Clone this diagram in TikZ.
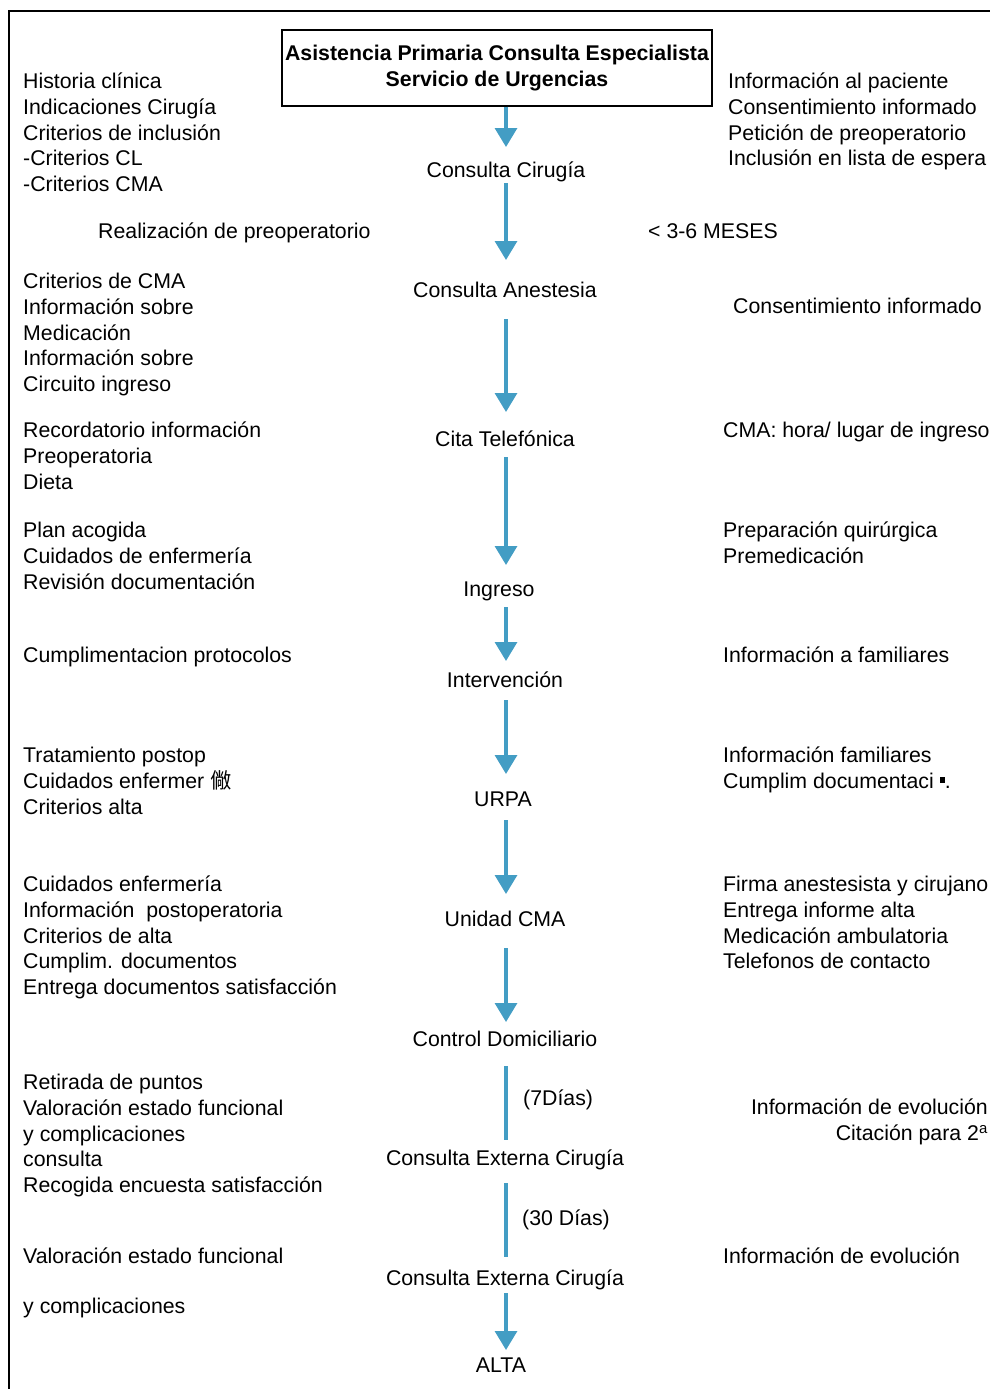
\documentclass[tikz,border=0pt]{standalone}
\usepackage{fontspec}
\setmainfont{Liberation Sans}
\newfontfamily\cjk{Noto Sans CJK SC}
\usetikzlibrary{arrows.meta}
\definecolor{flecha}{RGB}{67,157,196}
\begin{document}
\begin{tikzpicture}[x=1pt,y=-1pt,
  every node/.style={font=\fontsize{21.3}{25.7}\selectfont,inner sep=0pt},
  paso/.style={anchor=base},
  izq/.style={anchor=north west,align=left,execute at begin node=\strut},
  der/.style={anchor=north east,align=right,execute at begin node=\strut},
  flujo/.style={draw=flecha,line width=3.3pt,-{Triangle[width=22pt,length=19pt]}},
  tramo/.style={draw=flecha,line width=3.3pt}]
  \useasboundingbox (0,0) rectangle (990,1389);
  \draw[line width=1.5pt] (9,1389) |- (990,11);
  \coordinate (eje) at (506,0);

  \node[draw,line width=1.2pt,minimum width=430pt,minimum height=76pt,align=center,
    font=\fontsize{21.3}{26}\selectfont\bfseries] (inicio) at (497,68)
    {Asistencia Primaria Consulta Especialista\\Servicio de Urgencias};
  \node[paso] (cirugia) at (506,177) {Consulta Cirugía};
  \node[paso] (anestesia) at (505,297) {Consulta Anestesia};
  \node[paso] (telefonica) at (505,446) {Cita Telefónica};
  \node[paso] (ingreso) at (499,596) {Ingreso};
  \node[paso] (intervencion) at (505,687) {Intervención};
  \node[paso] (urpa) at (503,806) {URPA};
  \node[paso] (unidad) at (505,926) {Unidad CMA};
  \node[paso] (control) at (505,1046) {Control Domiciliario};
  \node[paso] (externaA) at (505,1165) {Consulta Externa Cirugía};
  \node[paso] (externaB) at (505,1285) {Consulta Externa Cirugía};
  \node[paso] (alta) at (501,1372) {ALTA};

  \draw[flujo,shorten >=30pt] (inicio.south -| eje) -- (cirugia.base -| eje);
  \draw[flujo,shorten <=6pt,shorten >=37pt] (cirugia.base -| eje) -- (anestesia.base -| eje);
  \draw[flujo,shorten <=22pt,shorten >=34pt] (anestesia.base -| eje) -- (telefonica.base -| eje);
  \draw[flujo,shorten <=11pt,shorten >=31pt] (telefonica.base -| eje) -- (ingreso.base -| eje);
  \draw[flujo,shorten <=11pt,shorten >=26pt] (ingreso.base -| eje) -- (intervencion.base -| eje);
  \draw[flujo,shorten <=13pt,shorten >=32pt] (intervencion.base -| eje) -- (urpa.base -| eje);
  \draw[flujo,shorten <=14pt,shorten >=32pt] (urpa.base -| eje) -- (unidad.base -| eje);
  \draw[flujo,shorten <=22pt,shorten >=24pt] (unidad.base -| eje) -- (control.base -| eje);
  \draw[tramo,shorten <=20pt,shorten >=25pt] (control.base -| eje) -- (externaA.base -| eje);
  \draw[tramo,shorten <=18pt,shorten >=28pt] (externaA.base -| eje) -- (externaB.base -| eje);
  \draw[flujo,shorten <=8pt,shorten >=22pt] (externaB.base -| eje) -- (alta.base -| eje);
  \node[izq] (dias7) at (523,1087) {(7Días)};
  \node[izq] (dias30) at (522,1207) {(30 Días)};

  \node[izq] (historia) at (23,73) {Historia clínica\\Indicaciones Cirugía\\Criterios de inclusión\\-Criterios CL\\-Criterios CMA};
  \node[izq] (preop) at (98,220) {Realización de preoperatorio};
  \node[izq] (criterios) at (23,273) {Criterios de CMA\\Información sobre\\Medicación\\Información sobre\\Circuito ingreso};
  \node[izq] (recordatorio) at (23,422) {Recordatorio información\\Preoperatoria\\Dieta};
  \node[izq] (acogida) at (23,522) {Plan acogida\\Cuidados de enfermería\\Revisión documentación};
  \node[izq] (protocolos) at (23,644) {Cumplimentacion protocolos};
  \node[izq] (tratamiento) at (23,747) {Tratamiento postop\\Cuidados enfermer {\cjk 僘}\\Criterios alta};
  \node[izq] (cuidados) at (23,876) {Cuidados enfermería\\Información\ \ postoperatoria\\Criterios de alta\\Cumplim. documentos\\Entrega documentos satisfacción};
  \node[izq] (retirada) at (23,1074) {Retirada de puntos\\Valoración estado funcional\\y complicaciones\\consulta\\Recogida encuesta satisfacción};
  \node[izq] (valoracion) at (23,1245) {Valoración estado funcional};
  \node[izq] (complicaciones) at (23,1295) {y complicaciones};

  \node[izq] (informacion) at (728,73) {Información al paciente\\Consentimiento informado\\Petición de preoperatorio\\Inclusión en lista de espera};
  \node[izq] (meses) at (648,220) {< 3-6 MESES};
  \node[izq] (consentimiento) at (733,295) {Consentimiento informado};
  \node[izq] (hora) at (723,419) {CMA: hora/ lugar de ingreso};
  \node[izq] (preparacion) at (723,522) {Preparación quirúrgica\\Premedicación};
  \node[izq] (familiares) at (723,644) {Información a familiares};
  \node[izq] (cumplim) at (723,747) {Información familiares\\Cumplim documentaci \raisebox{0.5ex}{\rule{5pt}{6pt}}.};
  \node[izq] (firma) at (723,876) {Firma anestesista y cirujano\\Entrega informe alta\\Medicación ambulatoria\\Telefonos de contacto};
  \node[der] (evolucion) at (988,1099) {Información de evolución\\Citación para 2\textsuperscript{a}};
  \node[izq] (evolucionB) at (723,1245) {Información de evolución};
\end{tikzpicture}
\end{document}
